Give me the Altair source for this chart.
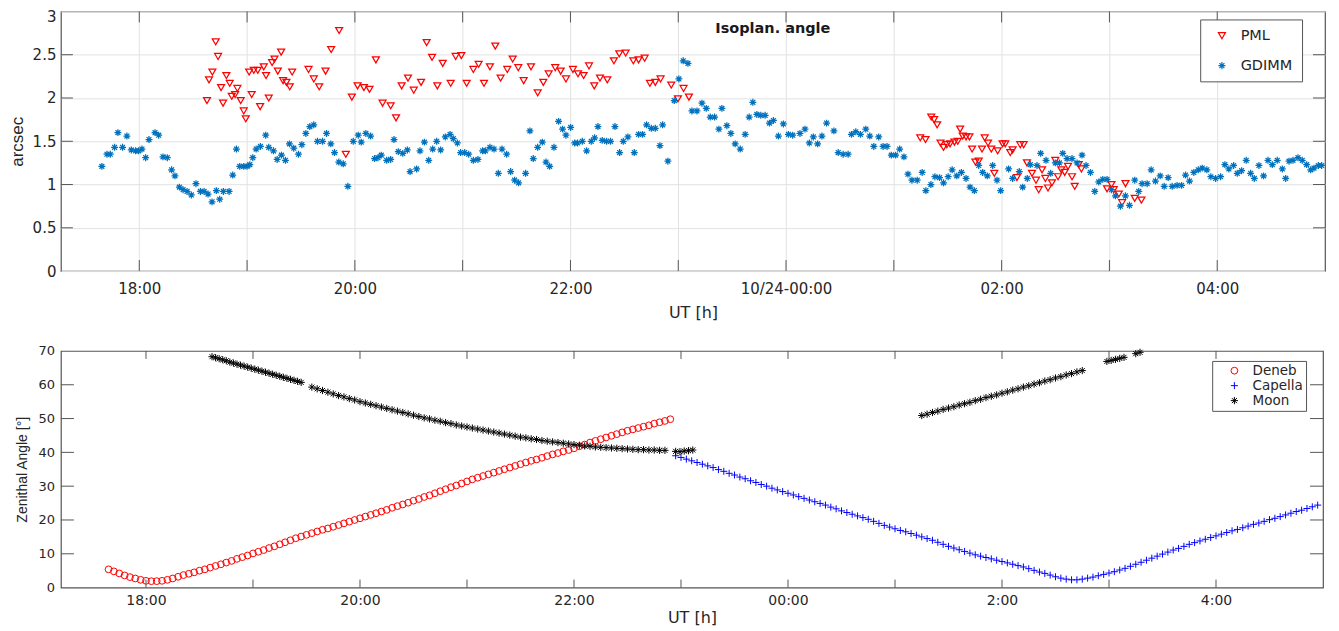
import altair as alt
import pandas as pd

# ------------------------------------------------------------------
# Top panel: isoplanatic angle (arcsec) vs UT hour (24+ = next day)
# ------------------------------------------------------------------
gdimm_time = [
    17.653, 17.700, 17.731, 17.771, 17.802, 17.845, 17.885, 17.926, 17.966, 17.994,
    18.025, 18.059, 18.090, 18.146, 18.180, 18.220, 18.260, 18.300, 18.331, 18.372,
    18.406, 18.443, 18.483, 18.526, 18.567, 18.601, 18.638, 18.675, 18.715, 18.746,
    18.780, 18.833, 18.867, 18.901, 18.932, 18.969, 19.000, 19.025, 19.053, 19.084,
    19.124, 19.173, 19.201, 19.245, 19.279, 19.319, 19.356, 19.393, 19.433, 19.477,
    19.508, 19.545, 19.582, 19.619, 19.653, 19.700, 19.737, 19.777, 19.811, 19.851,
    19.892, 19.935, 19.985, 20.031, 20.059, 20.102, 20.146, 20.183, 20.214, 20.245,
    20.295, 20.332, 20.363, 20.403, 20.444, 20.487, 20.512, 20.573, 20.604, 20.645,
    20.685, 20.722, 20.759, 20.796, 20.839, 20.883, 20.913, 20.951, 20.981, 21.019,
    21.056, 21.099, 21.142, 21.185, 21.210, 21.253, 21.291, 21.331, 21.365, 21.408,
    21.445, 21.482, 21.519, 21.584, 21.624, 21.655, 21.696, 21.739, 21.773, 21.807,
    21.847, 21.890, 21.927, 21.958, 22.002, 22.039, 22.066, 22.110, 22.150, 22.193,
    22.224, 22.255, 22.295, 22.335, 22.372, 22.413, 22.456, 22.490, 22.533, 22.592,
    22.632, 22.669, 22.706, 22.750, 22.787, 22.830, 22.855, 22.904, 22.963, 23.006,
    23.046, 23.090, 23.127,
    23.174, 23.220, 23.260, 23.297, 23.337, 23.377, 23.405, 23.451, 23.488, 23.528,
    23.575, 23.621, 23.658, 23.692, 23.729, 23.766, 23.806, 23.846, 23.883, 23.929,
    23.975, 24.022, 24.062, 24.129, 24.176, 24.216, 24.253, 24.293, 24.333, 24.376,
    24.444, 24.484, 24.530, 24.576, 24.607, 24.647, 24.690, 24.740, 24.777, 24.814,
    24.860, 24.900, 24.937, 24.977, 25.017, 25.054, 25.094, 25.131, 25.168, 25.217,
    25.263, 25.297, 25.344, 25.381, 25.424, 25.461, 25.504, 25.541, 25.584, 25.627,
    25.670, 25.707, 25.747, 25.787, 25.824, 25.867, 25.917, 25.957, 25.991,
    26.065, 26.102, 26.164, 26.195, 26.238, 26.266, 26.328, 26.362, 26.412, 26.455,
    26.498, 26.536, 26.567, 26.607, 26.653, 26.700, 26.746, 26.783, 26.824, 26.864,
    26.901, 26.938, 26.978, 27.019, 27.056, 27.102, 27.149, 27.186, 27.235, 27.272,
    27.303, 27.350, 27.387, 27.427, 27.471, 27.508, 27.545, 27.582, 27.628, 27.669,
    27.706, 27.743, 27.783, 27.824, 27.861, 27.904, 27.941, 27.985, 28.031, 28.071,
    28.108, 28.152, 28.186, 28.226, 28.269, 28.310, 28.344, 28.387, 28.430, 28.471,
    28.511, 28.557, 28.604, 28.635, 28.666, 28.703, 28.749, 28.789, 28.830, 28.867,
    28.898, 28.938, 28.969,
]
gdimm_isop = [
    1.21, 1.35, 1.35, 1.43, 1.60, 1.43, 1.56, 1.40, 1.39, 1.39,
    1.41, 1.31, 1.52, 1.60, 1.57, 1.32, 1.31, 1.17, 1.10, 0.97,
    0.94, 0.92, 0.88, 1.01, 0.92, 0.92, 0.89, 0.80, 0.93, 0.83,
    0.92, 0.92, 1.11, 1.41, 1.21, 1.21, 1.21, 1.23, 1.31, 1.41,
    1.44, 1.57, 1.43, 1.39, 1.29, 1.34, 1.28, 1.47, 1.42, 1.35,
    1.46, 1.59, 1.67, 1.69, 1.50, 1.50, 1.59, 1.47, 1.37, 1.26,
    1.24, 0.98, 1.50, 1.57, 1.49, 1.59, 1.56, 1.30, 1.31, 1.34,
    1.28, 1.29, 1.52, 1.38, 1.36, 1.40, 1.15, 1.18, 1.39, 1.49,
    1.28, 1.41, 1.50, 1.40, 1.55, 1.58, 1.53, 1.48, 1.37, 1.37,
    1.35, 1.28, 1.29, 1.39, 1.39, 1.43, 1.41, 1.13, 1.41, 1.35,
    1.15, 1.05, 1.02, 1.13, 1.62, 1.30, 1.43, 1.49, 1.26, 1.21,
    1.43, 1.73, 1.64, 1.57, 1.66, 1.48, 1.48, 1.50, 1.39, 1.50,
    1.54, 1.67, 1.51, 1.50, 1.50, 1.67, 1.37, 1.50, 1.55, 1.37,
    1.58, 1.58, 1.69, 1.65, 1.65, 1.45, 1.69, 1.27, 1.97, 2.22,
    2.43, 2.40, 1.85,
    1.85, 1.94, 1.88, 1.78, 1.78, 1.64, 1.88, 1.68, 1.59, 1.47,
    1.41, 1.58, 1.78, 1.95, 1.81, 1.80, 1.80, 1.71, 1.74, 1.56,
    1.70, 1.58, 1.57, 1.59, 1.64, 1.48, 1.55, 1.47, 1.56, 1.71,
    1.62, 1.37, 1.35, 1.35, 1.58, 1.61, 1.58, 1.64, 1.56, 1.44,
    1.55, 1.44, 1.44, 1.34, 1.34, 1.41, 1.32, 1.12, 1.05, 1.05,
    1.14, 0.93, 1.00, 1.09, 1.08, 1.02, 1.09, 1.17, 1.10, 1.14,
    1.07, 0.97, 0.93, 1.22, 1.14, 1.10, 1.22, 1.05, 0.93,
    1.18, 1.07, 1.15, 0.97, 1.07, 1.23, 1.22, 1.36, 1.28, 1.13,
    1.25, 1.25, 1.36, 1.30, 1.30, 1.25, 1.34, 1.22, 1.14, 0.92,
    1.03, 1.06, 1.06, 0.94, 0.87, 0.75, 0.87, 0.76, 1.05, 0.92,
    1.01, 1.01, 1.17, 1.04, 1.10, 0.98, 1.08, 0.98, 0.99, 0.99,
    1.11, 1.04, 1.14, 1.17, 1.19, 1.17, 1.09, 1.07, 1.09, 1.23,
    1.18, 1.22, 1.13, 1.16, 1.28, 1.13, 1.07, 1.22, 1.10, 1.28,
    1.23, 1.28, 1.18, 1.07, 1.27, 1.28, 1.31, 1.28, 1.23, 1.17,
    1.19, 1.22, 1.22,
]
pml_time = [
    18.628, 18.647, 18.678, 18.709, 18.731, 18.759, 18.777, 18.808, 18.839, 18.858,
    18.889, 18.910, 18.941, 18.969, 18.988, 19.019, 19.043, 19.062, 19.099, 19.121,
    19.155, 19.176, 19.201, 19.232, 19.254, 19.285, 19.316, 19.334, 19.365, 19.396,
    19.418, 19.570, 19.619, 19.669, 19.728, 19.780, 19.854, 19.916, 19.972, 20.025,
    20.084, 20.136, 20.195, 20.257,
    20.332, 20.382, 20.434, 20.493, 20.546, 20.614, 20.666, 20.716, 20.765, 20.815,
    20.889, 20.935, 20.988, 21.037, 21.099, 21.148, 21.198, 21.253, 21.303, 21.352,
    21.414, 21.464, 21.516, 21.566, 21.634, 21.696, 21.748, 21.798, 21.859, 21.909,
    21.958, 22.023, 22.070, 22.122, 22.172, 22.221, 22.274, 22.342, 22.403, 22.453,
    22.512, 22.583, 22.632, 22.688, 22.737, 22.787, 22.836, 22.935, 22.997, 23.049,
    23.099,
    25.245, 25.294, 25.347, 25.374, 25.402, 25.433, 25.461, 25.492, 25.522, 25.562,
    25.593, 25.615, 25.639, 25.670, 25.701, 25.726, 25.757, 25.787, 25.818, 25.843,
    25.874, 25.904, 25.932, 25.963, 26.009,
    26.034, 26.080, 26.102, 26.142, 26.173, 26.204, 26.235, 26.282, 26.319, 26.344,
    26.375, 26.406, 26.430, 26.467, 26.498, 26.523, 26.554, 26.585, 26.616, 26.653,
    26.678, 26.715, 26.740, 26.978, 27.019, 27.040, 27.087, 27.118, 27.149, 27.235,
    27.297,
]
pml_isop = [
    1.97, 2.21, 2.30, 2.65, 2.48, 2.12, 1.94, 2.26, 2.17, 2.02,
    2.04, 2.11, 1.97, 1.85, 1.76, 2.30, 2.04, 2.32, 2.32, 1.90,
    2.36, 2.26, 2.00, 2.41, 2.45, 2.31, 2.53, 2.20, 2.18, 2.13,
    2.30, 2.33, 2.22, 2.13, 2.31, 2.56, 2.78, 1.35, 2.01, 2.14,
    2.12, 2.10, 2.44, 1.94,
    1.91, 1.77, 2.14, 2.23, 2.09, 2.18, 2.64, 2.47, 2.14, 2.40,
    2.17, 2.48, 2.49, 2.17, 2.33, 2.39, 2.17, 2.36, 2.60, 2.23,
    2.33, 2.45, 2.35, 2.20, 2.36, 2.06, 2.18, 2.28, 2.35, 2.31,
    2.22, 2.33, 2.28, 2.26, 2.37, 2.14, 2.23, 2.21, 2.43, 2.51,
    2.52, 2.43, 2.44, 2.46, 2.17, 2.18, 2.22, 2.15, 1.99, 2.11,
    2.01,
    1.54, 1.52, 1.78, 1.75, 1.69, 1.48, 1.43, 1.46, 1.47, 1.49,
    1.50, 1.64, 1.56, 1.55, 1.55, 1.41, 1.26, 1.27, 1.41, 1.54,
    1.48, 1.41, 1.13, 1.39, 1.47,
    1.47, 1.37, 1.40, 1.08, 1.46, 1.46, 1.25, 1.13, 1.05, 0.94,
    1.17, 1.07, 0.96, 1.02, 1.28, 1.09, 1.17, 1.14, 1.21, 1.09,
    0.98, 1.23, 1.18, 0.95, 1.00, 0.94, 0.89, 0.79, 1.01, 0.84,
    0.82,
]

# ------------------------------------------------------------------
# Bottom panel: zenith angle (deg); samples every few minutes
# ------------------------------------------------------------------
deneb_start, deneb_step = 17.65, 0.05
deneb_zen = [
    5.4, 4.8, 4.2, 3.6, 3.1, 2.7, 2.3, 2.0, 1.9, 1.9,
    2.0, 2.3, 2.7, 3.2, 3.7, 4.1, 4.5, 5.0, 5.4, 5.9,
    6.4, 6.9, 7.4, 7.9, 8.5, 9.0, 9.5, 10.1, 10.6, 11.1,
    11.7, 12.2, 12.8, 13.4, 14.0, 14.6, 15.1, 15.6, 16.1, 16.6,
    17.1, 17.5, 18.0, 18.5, 19.0, 19.5, 20.0, 20.5, 21.0, 21.5,
    22.0, 22.5, 23.0, 23.6, 24.1, 24.6, 25.1, 25.7, 26.2, 26.8,
    27.3, 27.9, 28.5, 29.1, 29.7, 30.2, 30.8, 31.4, 32.0, 32.5,
    33.0, 33.5, 34.0, 34.5, 35.0, 35.5, 36.0, 36.5, 37.0, 37.5,
    37.9, 38.4, 38.9, 39.4, 39.8, 40.3, 40.7, 41.2, 41.8, 42.3,
    42.9, 43.4, 43.9, 44.4, 44.9, 45.4, 45.9, 46.4, 46.8, 47.2,
    47.6, 48.0, 48.5, 48.9, 49.3, 49.8,
]
capella_start, capella_step = 22.95, 0.05
capella_zen = [
    39.0, 38.5, 38.0, 37.5, 37.0, 36.5, 36.0, 35.5, 34.9, 34.4,
    33.8, 33.3, 32.7, 32.2, 31.6, 31.1, 30.5, 30.0, 29.4, 28.9,
    28.4, 27.9, 27.4, 26.9, 26.4, 25.9, 25.4, 24.9, 24.4, 23.8,
    23.3, 22.7, 22.2, 21.7, 21.2, 20.7, 20.2, 19.6, 19.0, 18.4,
    17.9, 17.4, 16.9, 16.5, 16.0, 15.5, 15.0, 14.5, 14.0, 13.4,
    12.8, 12.2, 11.7, 11.2, 10.7, 10.2, 9.7, 9.3, 8.9, 8.5,
    8.1, 7.7, 7.3, 6.9, 6.5, 6.1, 5.6, 5.1, 4.6, 4.2,
    3.7, 3.2, 2.8, 2.5, 2.3, 2.3, 2.5, 2.8, 3.1, 3.5,
    3.9, 4.3, 4.7, 5.2, 5.7, 6.3, 6.9, 7.5, 8.1, 8.7,
    9.3, 9.9, 10.5, 11.1, 11.6, 12.2, 12.8, 13.3, 13.8, 14.3,
    14.8, 15.3, 15.8, 16.3, 16.8, 17.2, 17.7, 18.2, 18.7, 19.1,
    19.6, 20.1, 20.5, 21.0, 21.5, 22.0, 22.5, 22.9, 23.4, 23.9,
    24.4,
]
moon_seg1 = (18.617, 1 / 30, [
    68.3, 68.0, 67.7, 67.4, 67.1, 66.7, 66.4, 66.1, 65.8, 65.5,
    65.2, 64.9, 64.6, 64.3, 64.0, 63.7, 63.4, 63.1, 62.8, 62.5,
    62.2, 61.9, 61.6, 61.3, 61.0, 60.7])
moon_seg2 = (19.55, 0.05, [
    59.3, 58.8, 58.3, 57.8, 57.3, 56.8, 56.4, 55.9, 55.5, 55.0,
    54.6, 54.2, 53.8, 53.4, 53.0, 52.6, 52.2, 51.8, 51.4, 51.0,
    50.6, 50.2, 49.9, 49.5, 49.2, 48.8, 48.5, 48.1, 47.8, 47.5,
    47.2, 46.9, 46.6, 46.3, 46.0, 45.7, 45.4, 45.1, 44.8, 44.5,
    44.3, 44.0, 43.8, 43.5, 43.3, 43.1, 42.9, 42.7, 42.5, 42.3,
    42.1, 41.9, 41.8, 41.6, 41.5, 41.4, 41.3, 41.2, 41.1, 41.0,
    40.9, 40.8, 40.8, 40.7, 40.7, 40.6, 40.6])
moon_seg3 = (22.95, 0.04, [40.3, 40.2, 40.4, 40.5, 40.7])
moon_seg4 = (25.25, 0.05, [
    50.9, 51.3, 51.8, 52.2, 52.7, 53.1, 53.5, 54.0, 54.4, 54.8,
    55.3, 55.7, 56.2, 56.6, 57.0, 57.5, 57.9, 58.4, 58.8, 59.3,
    59.7, 60.2, 60.6, 61.1, 61.5, 62.0, 62.4, 62.9, 63.3, 63.8, 64.2])
moon_seg5 = (26.98, 0.04, [66.9, 67.2, 67.5, 67.8, 68.1])
moon_seg6 = (27.25, 0.04, [69.2, 69.6])

hour_ticks = list(range(18, 29))
top_y_ticks = [0, 0.5, 1, 1.5, 2, 2.5, 3]
bottom_y_ticks = [0, 10, 20, 30, 40, 50, 60, 70]

# ------------------------------------------------------------------
TW, TH = 1266, 260
BW, BH = 1264, 237
TC = "#555555"
TXT = "#262626"
ASTERISK = "M-1,0L1,0M0,-1L0,1M-0.7,-0.7L0.7,0.7M-0.7,0.7L0.7,-0.7"
PLUS = "M-1,0L1,0M0,-1L0,1"

top_df = pd.DataFrame({
    "t": pml_time + gdimm_time,
    "v": pml_isop + gdimm_isop,
    "series": ["PML"] * len(pml_time) + ["GDIMM"] * len(gdimm_time),
})

rows = []
for i, z in enumerate(deneb_zen):
    rows.append({"t": deneb_start + i * deneb_step, "v": z, "body": "Deneb"})
for i, z in enumerate(capella_zen):
    rows.append({"t": capella_start + i * capella_step, "v": z, "body": "Capella"})
for start, step, vals in [moon_seg1, moon_seg2, moon_seg3, moon_seg4, moon_seg5, moon_seg6]:
    for i, z in enumerate(vals):
        rows.append({"t": start + i * step, "v": z, "body": "Moon"})
bot_df = pd.DataFrame(rows)

top_label_expr = ("datum.value % 2 != 0 ? '' : datum.value == 24 ? '10/24-00:00' : "
                  "datum.value > 24 ? '0' + (datum.value - 24) + ':00' : datum.value + ':00'")
bot_label_expr = ("datum.value % 2 != 0 ? '' : datum.value == 24 ? '00:00' : "
                  "datum.value > 24 ? (datum.value - 24) + ':00' : datum.value + ':00'")

xs_top = alt.Scale(domain=[17.273, 29.0], nice=False, zero=False)
ys_top = alt.Scale(domain=[0, 3], nice=False)
xs_bot = alt.Scale(domain=[17.205, 29.0], nice=False, zero=False)
ys_bot = alt.Scale(domain=[0, 70], nice=False)

ax_top_x = alt.Axis(
    values=hour_ticks, labelExpr=top_label_expr, grid=True, gridColor="#e2e2e2",
    ticks=False, domain=False, labelFont="DejaVu Sans", labelFontSize=15,
    labelPadding=10, labelOverlap=False, labelColor=TXT,
    title="UT [h]", titleFont="DejaVu Sans", titleFontSize=16,
    titleFontWeight="normal", titlePadding=8, titleColor=TXT)
ax_top_y = alt.Axis(
    values=top_y_ticks, format="~g", grid=True, gridColor="#e2e2e2",
    ticks=False, domain=False, labelFont="DejaVu Sans", labelFontSize=15,
    labelPadding=5, labelOverlap=False, labelColor=TXT, minExtent=29, maxExtent=29,
    labelOffset={"condition": {"test": "datum.value == 3", "value": 5.5}, "value": 0},
    title="arcsec", titleFont="Liberation Sans", titleFontSize=17,
    titleFontWeight="normal", titlePadding=5, titleColor=TXT)
ax_bot_x = alt.Axis(
    values=hour_ticks, labelExpr=bot_label_expr, grid=False,
    ticks=False, domain=False, labelFont="DejaVu Sans", labelFontSize=14,
    labelPadding=6, labelOverlap=False, labelColor=TXT,
    title="UT [h]", titleFont="DejaVu Sans", titleFontSize=16,
    titleFontWeight="normal", titlePadding=2, titleColor=TXT)
ax_bot_y = alt.Axis(
    values=bottom_y_ticks, format="d", grid=False, ticks=False, domain=False,
    labelFont="DejaVu Sans", labelFontSize=13, labelPadding=6.5, labelOverlap=False,
    labelColor=TXT, minExtent=23, maxExtent=23,
    title="Zenithal Angle [°]", titleFont="Liberation Sans", titleFontSize=14,
    titleFontWeight="normal", titlePadding=8.5, titleColor=TXT, titleLimit=300)

top_legend = alt.Legend(
    title=None, orient="none", legendX=1141, legendY=8, direction="vertical",
    fillColor="white", strokeColor=TC, padding=9, symbolOffset=5.5, labelOffset=11.5,
    labelFont="DejaVu Sans", labelFontSize=14.5, labelColor=TXT, rowPadding=15,
    symbolSize=50, symbolStrokeWidth=1.2,
)
bot_legend = alt.Legend(
    title=None, orient="none", legendX=1153, legendY=10, direction="vertical",
    fillColor="white", strokeColor=TC, padding=3, symbolOffset=12.5, labelOffset=11.5,
    labelFont="DejaVu Sans", labelFontSize=13.5, labelColor=TXT, rowPadding=0,
    symbolSize=49, symbolStrokeWidth=1,
)

top_points = alt.Chart(top_df).mark_point(filled=False, size=48, strokeWidth=1.25, opacity=1).encode(
    x=alt.X("t:Q", scale=xs_top, axis=ax_top_x),
    y=alt.Y("v:Q", scale=ys_top, axis=ax_top_y),
    color=alt.Color("series:N", scale=alt.Scale(domain=["PML", "GDIMM"], range=["#ff0000", "#0072bd"]),
                    legend=top_legend),
    shape=alt.Shape("series:N", scale=alt.Scale(domain=["PML", "GDIMM"], range=["triangle-down", ASTERISK]),
                    legend=top_legend),
)


def tick_layers(xscale, yscale, xaxis, yaxis, xvals, yvals, W, H, Lx, Ly):
    xdf = pd.DataFrame({"t": xvals})
    ydf = pd.DataFrame({"v": yvals})
    xb = alt.Chart(xdf).mark_rule(color=TC, strokeWidth=1).encode(
        x=alt.X("t:Q", scale=xscale, axis=xaxis), y=alt.value(H), y2=alt.value(H - Lx))
    xt = alt.Chart(xdf).mark_rule(color=TC, strokeWidth=1).encode(
        x=alt.X("t:Q", scale=xscale, axis=xaxis), y=alt.value(0), y2=alt.value(Lx))
    yl = alt.Chart(ydf).mark_rule(color=TC, strokeWidth=1).encode(
        y=alt.Y("v:Q", scale=yscale, axis=yaxis), x=alt.value(0), x2=alt.value(Ly))
    yr = alt.Chart(ydf).mark_rule(color=TC, strokeWidth=1).encode(
        y=alt.Y("v:Q", scale=yscale, axis=yaxis), x=alt.value(W), x2=alt.value(W - Ly))
    return [xb, xt, yl, yr]


top = alt.layer(
    top_points,
    *tick_layers(xs_top, ys_top, ax_top_x, ax_top_y, hour_ticks, [0.5, 1, 1.5, 2, 2.5], TW, TH, 11, 12)
).properties(
    width=TW, height=TH,
    title=alt.TitleParams(text="Isoplan. angle", font="DejaVu Sans", fontSize=14.5, fontWeight="bold",
                          color="#1a1a1a", anchor="middle", frame="group", offset=0, dx=80, dy=26.5),
)

bot_points = alt.Chart(bot_df).mark_point(filled=False, opacity=1).encode(
    x=alt.X("t:Q", scale=xs_bot, axis=ax_bot_x),
    y=alt.Y("v:Q", scale=ys_bot, axis=ax_bot_y),
    color=alt.Color("body:N", scale=alt.Scale(domain=["Deneb", "Capella", "Moon"],
                                              range=["#ff0000", "#0000ff", "#000000"]),
                    legend=bot_legend),
    shape=alt.Shape("body:N", scale=alt.Scale(domain=["Deneb", "Capella", "Moon"],
                                              range=["circle", PLUS, ASTERISK]),
                    legend=bot_legend),
    size=alt.Size("body:N", scale=alt.Scale(domain=["Deneb", "Capella", "Moon"],
                                            range=[46, 52, 64]), legend=None),
    strokeWidth=alt.StrokeWidth("body:N", scale=alt.Scale(domain=["Deneb", "Capella", "Moon"],
                                                          range=[1, 1, 1.3]), legend=None),
)

bottom = alt.layer(
    bot_points,
    *tick_layers(xs_bot, ys_bot, ax_bot_x, ax_bot_y, hour_ticks, [10, 20, 30, 40, 50, 60], BW, BH, 8, 13)
).properties(width=BW, height=BH)

chart = alt.vconcat(top, bottom, spacing=80, bounds="flush").resolve_scale(
    color="independent", shape="independent", size="independent", strokeWidth="independent"
).properties(
    padding={"left": 0, "top": 0, "right": 2, "bottom": 0},
    background="white",
).configure_view(stroke=TC, strokeWidth=1.2)

chart.save("out.html", embed_options={"renderer": "svg", "actions": False})
